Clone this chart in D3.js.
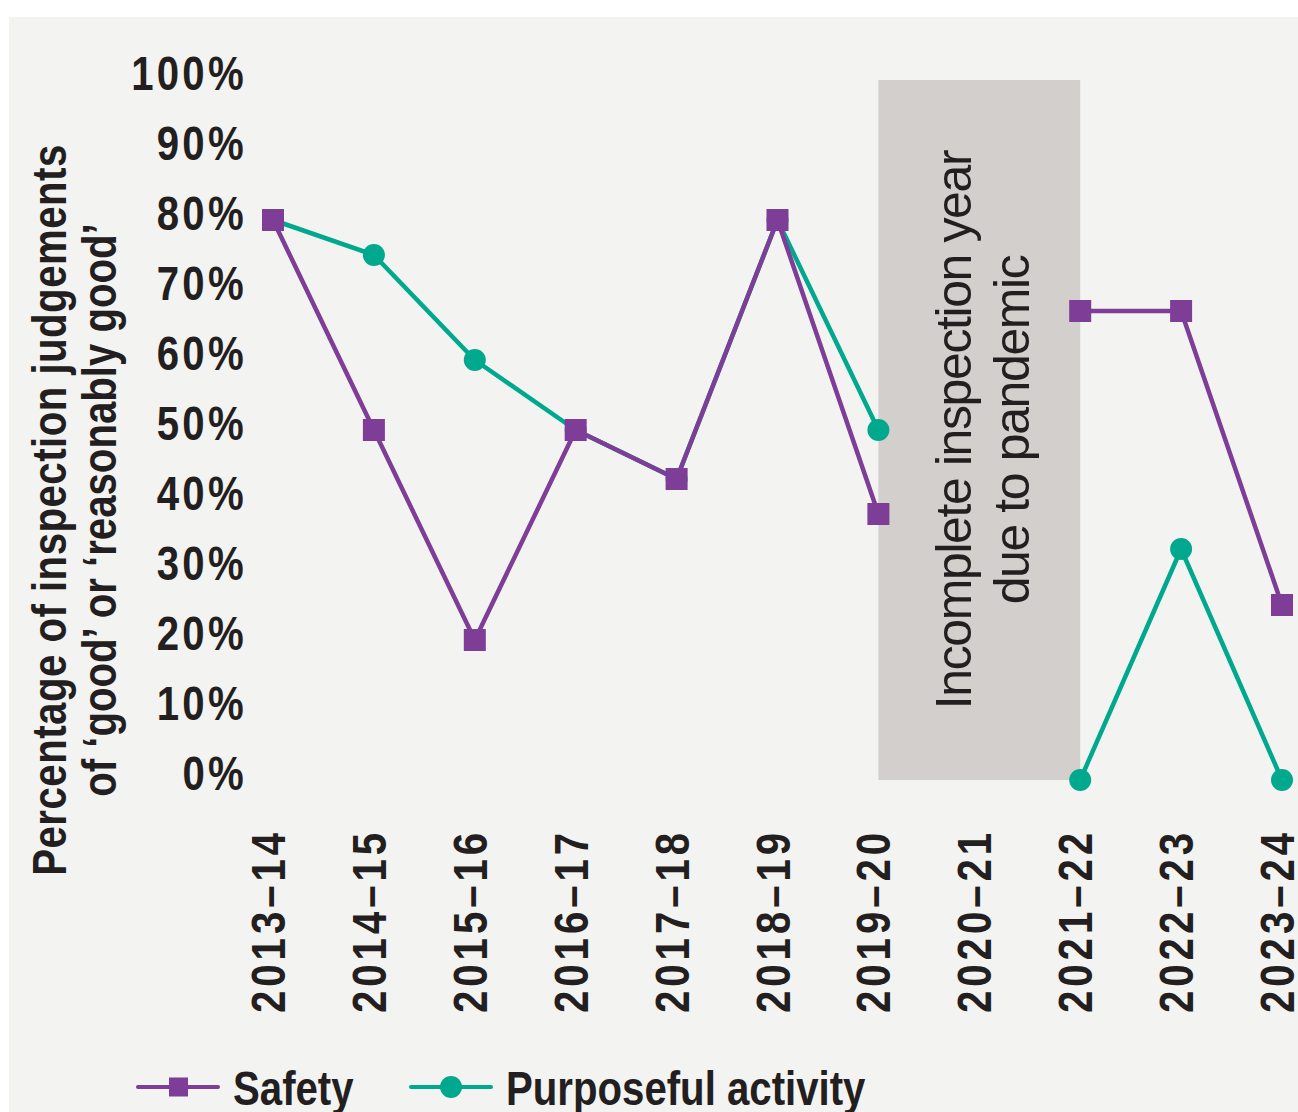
<!DOCTYPE html>
<html>
<head>
<meta charset="utf-8">
<script src="https://cdn.jsdelivr.net/npm/d3@7"></script>
<style>
  html, body { margin: 0; padding: 0; background: #fff; }
  svg { display: block; }
</style>
</head>
<body>
<div id="chart"></div>
<script>
var width = 1298,
    height = 1112;

// data
var years = ["2013\u201314", "2014\u201315", "2015\u201316", "2016\u201317", "2017\u201318",
             "2018\u201319", "2019\u201320", "2020\u201321", "2021\u201322", "2022\u201323", "2023\u201324"];
var safety = [80, 50, 20, 50, 43, 80, 38, null, 67, 67, 25];
var purposeful = [80, 75, 60, 50, 43, 80, 50, null, 0, 33, 0];
var yTicks = [0, 10, 20, 30, 40, 50, 60, 70, 80, 90, 100];
var gapFrom = "2019\u201320", gapTo = "2021\u201322";

var purple = "#7e3d97",
    teal = "#00a88e",
    ink = "#231f20",
    font = "'Liberation Sans', Arial, sans-serif",
    narrow = 0.82; // squeeze bold text to look like a condensed face

var svg = d3.select("#chart").append("svg")
    .attr("width", width)
    .attr("height", height);

svg.append("rect")
    .attr("x", 9).attr("y", 17)
    .attr("width", width - 9).attr("height", height - 17)
    .attr("fill", "#f3f3f1");

var x = d3.scalePoint()
    .domain(years)
    .range([273, 1282]);

var y = d3.scaleLinear()
    .domain([0, 100])
    .range([780, 80]);

// pandemic box
svg.append("rect")
    .attr("x", x(gapFrom))
    .attr("y", y(100))
    .attr("width", x(gapTo) - x(gapFrom))
    .attr("height", y(0) - y(100))
    .attr("fill", "#d3cfcc");

var boxText = svg.append("text")
    .attr("transform", `translate(${(x(gapFrom) + x(gapTo)) / 2},${y(50)}) rotate(-90)`)
    .attr("font-family", font)
    .attr("font-size", 50)
    .attr("letter-spacing", -1.4)
    .attr("fill", ink)
    .attr("text-anchor", "middle");
boxText.append("tspan").attr("x", 0).attr("y", -8).text("Incomplete inspection year");
boxText.append("tspan").attr("x", 0).attr("y", 50).text("due to pandemic");

// y axis labels
svg.append("g")
    .selectAll("text")
    .data(yTicks)
    .join("text")
    .attr("transform", d => `translate(247,${y(d) + 10}) scale(${narrow},1)`)
    .attr("text-anchor", "end")
    .attr("font-family", font)
    .attr("font-weight", "bold")
    .attr("font-size", 49)
    .attr("letter-spacing", 4)
    .attr("fill", ink)
    .text(d => d + "%");

// x axis labels
svg.append("g")
    .selectAll("text")
    .data(years)
    .join("text")
    .attr("transform", d => `translate(${x(d) + 12},829) rotate(-90) scale(${narrow},1)`)
    .attr("text-anchor", "end")
    .attr("font-family", font)
    .attr("font-weight", "bold")
    .attr("font-size", 49)
    .attr("letter-spacing", 4.8)
    .attr("fill", ink)
    .text(d => d);

// y title
var title = svg.append("text")
    .attr("transform", `translate(0,510) rotate(-90) scale(${narrow},1)`)
    .attr("text-anchor", "middle")
    .attr("font-family", font)
    .attr("font-weight", "bold")
    .attr("font-size", 49)
    .attr("fill", ink);
title.append("tspan").attr("x", 0).attr("y", 66).attr("letter-spacing", 0.6)
    .text("Percentage of inspection judgements");
title.append("tspan").attr("x", 0).attr("y", 116)
    .text("of \u2018good\u2019 or \u2018reasonably good\u2019");

// lines
var line = d3.line()
    .defined(d => d.v != null)
    .x(d => x(d.year))
    .y(d => y(d.v));

function rows(vals) {
    return years.map((yr, i) => ({ year: yr, v: vals[i] }));
}

var series = [
    { name: "Safety", vals: rows(safety), color: purple, shape: "square" },
    { name: "Purposeful activity", vals: rows(purposeful), color: teal, shape: "circle" }
];

// draw purposeful first so safety sits on top
series.slice().reverse().forEach(function (s) {
    svg.append("path")
        .datum(s.vals)
        .attr("fill", "none")
        .attr("stroke", s.color)
        .attr("stroke-width", 4.5)
        .attr("stroke-linejoin", "round")
        .attr("d", line);
});

series.slice().reverse().forEach(function (s) {
    var pts = svg.append("g").selectAll(".pt")
        .data(s.vals.filter(d => d.v != null))
        .join(s.shape === "square" ? "rect" : "circle")
        .attr("fill", s.color);
    if (s.shape === "square") {
        pts.attr("x", d => x(d.year) - 11)
            .attr("y", d => y(d.v) - 11)
            .attr("width", 22)
            .attr("height", 22);
    } else {
        pts.attr("cx", d => x(d.year))
            .attr("cy", d => y(d.v))
            .attr("r", 11);
    }
});

// legend
var legend = svg.append("g")
    .selectAll("g")
    .data(series)
    .join("g")
    .attr("transform", (d, i) => `translate(${i ? 411 : 138},1087)`);

legend.append("line")
    .attr("x1", 0).attr("x2", 80)
    .attr("stroke", d => d.color)
    .attr("stroke-width", 4)
    .attr("stroke-linecap", "round");

legend.each(function (d) {
    var g = d3.select(this);
    if (d.shape === "square") {
        g.append("rect").attr("x", 31).attr("y", -9.5).attr("width", 19).attr("height", 19).attr("fill", d.color);
    } else {
        g.append("circle").attr("cx", 40).attr("r", 11).attr("fill", d.color);
    }
});

legend.append("text")
    .attr("transform", `translate(95,18) scale(${narrow},1)`)
    .attr("font-family", font)
    .attr("font-weight", "bold")
    .attr("font-size", 49)
    .attr("fill", ink)
    .text(d => d.name);
</script>
</body>
</html>
